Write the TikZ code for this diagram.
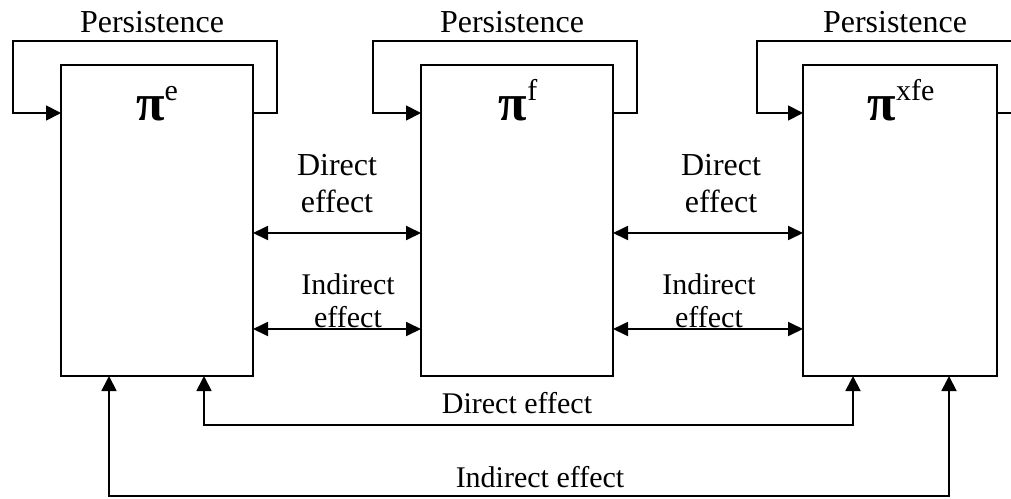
\documentclass[tikz,border=0pt]{standalone}
\usepackage{fontspec}
\setmainfont{Liberation Serif}
\usetikzlibrary{arrows.meta}
\tikzset{
  box/.style={draw, line width=1.8pt, inner sep=0pt, outer sep=0pt, minimum width=192pt, minimum height=311pt},
  conn/.style={line width=1.8pt},
  tip/.style={-{Triangle[length=15pt,width=15pt]}},
  dtip/.style={{Triangle[length=15pt,width=14pt]}-{Triangle[length=15pt,width=14pt]}},
  lbl/.style={inner sep=0pt, anchor=base, font=\fontsize{30}{36}\selectfont},
  biglbl/.style={lbl, font=\fontsize{32}{38}\selectfont},
  pilbl/.style={inner sep=0pt, anchor=base}
}
\newcommand{\pisym}[1]{{\fontsize{52}{52}\selectfont\bfseries π}\raisebox{20pt}{\fontsize{30}{30}\selectfont #1}}
\begin{document}
\begin{tikzpicture}[x=1pt,y=-1pt]
\useasboundingbox (0,0) rectangle (1011,498);
\begin{scope}
\clip (0,0) rectangle (1011,498);
% boxes
\node[box] (B1) at (157,220.5) {};
\node[box] (B2) at (517,220.5) {};
\node[box, minimum width=194pt] (B3) at (900,220.5) {};
% pi labels
\node[pilbl] (P1) at (157,120) {\pisym{e}};
\node[pilbl] (P2) at (518,120) {\pisym{f}};
\node[pilbl] (P3) at (901,120) {\pisym{xfe}};
% level coordinates
\coordinate (top) at (0,41);
\coordinate (lvl) at (0,113);
\coordinate (dl) at (0,233);
\coordinate (il) at (0,329);
% persistence loops
\coordinate (L1l) at (13,113);
\coordinate (L1r) at (277,113);
\coordinate (L2l) at (373,113);
\coordinate (L2r) at (637,113);
\coordinate (L3l) at (757,113);
\coordinate (L3r) at (1025,113);
\draw[conn, tip] (B1.east |- lvl) -- (L1r) -- (L1r |- top) -- (L1l |- top) -- (L1l) -- (B1.west |- lvl);
\draw[conn, tip] (B2.east |- lvl) -- (L2r) -- (L2r |- top) -- (L2l |- top) -- (L2l) -- (B2.west |- lvl);
\draw[conn, tip] (B3.east |- lvl) -- (L3r) -- (L3r |- top) -- (L3l |- top) -- (L3l) -- (B3.west |- lvl);
\node[biglbl] (T1) at (152,32) {Persistence};
\node[biglbl] (T2) at (512,32) {Persistence};
\node[biglbl] (T3) at (895,32) {Persistence};
% horizontal two-headed arrows
\draw[conn, dtip] (B1.east |- dl) -- (B2.west |- dl);
\draw[conn, dtip] (B1.east |- il) -- (B2.west |- il);
\draw[conn, dtip] (B2.east |- dl) -- (B3.west |- dl);
\draw[conn, dtip] (B2.east |- il) -- (B3.west |- il);
\node[biglbl] (D1a) at (337,175) {Direct};
\node[biglbl] (D1b) at (337,212) {effect};
\node[lbl] (I1a) at (348,294) {Indirect};
\node[lbl] (I1b) at (348,327) {effect};
\node[biglbl] (D2a) at (721,175) {Direct};
\node[biglbl] (D2b) at (721,212) {effect};
\node[lbl] (I2a) at (709,294) {Indirect};
\node[lbl] (I2b) at (709,327) {effect};
% bottom arrows
\coordinate (bd1) at (204,425);
\coordinate (bd3) at (853,425);
\coordinate (bi1) at (109,496);
\coordinate (bi3) at (949,496);
\draw[conn, tip] (bd3) -- (bd1) -- (bd1 |- B1.south);
\draw[conn, tip] (bd1) -- (bd3) -- (bd3 |- B3.south);
\draw[conn, tip] (bi3) -- (bi1) -- (bi1 |- B1.south);
\draw[conn, tip] (bi1) -- (bi3) -- (bi3 |- B3.south);
\node[lbl] (BD) at (517,413) {Direct effect};
\node[lbl] (BI) at (540,487) {Indirect effect};
\end{scope}
\end{tikzpicture}
\end{document}
